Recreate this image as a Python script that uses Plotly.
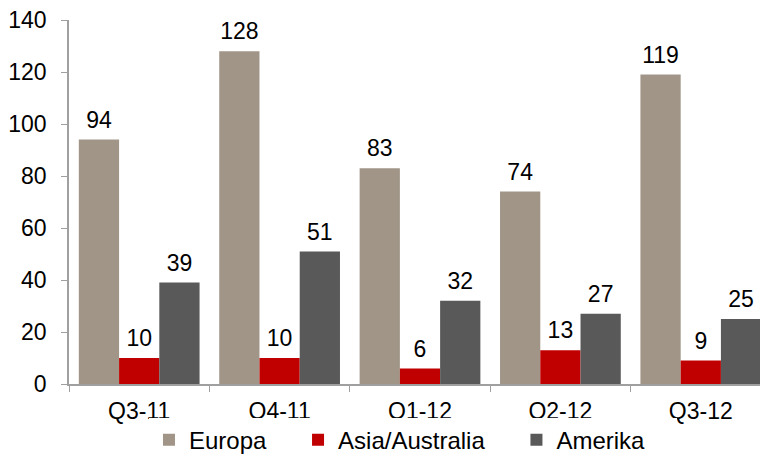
import plotly.graph_objects as go

categories = ["Q3-11", "Q4-11", "Q1-12", "Q2-12", "Q3-12"]
europa = [94, 128, 83, 74, 119]
asia = [10, 10, 6, 13, 9]
amerika = [39, 51, 32, 27, 25]
y_ticks = [0, 20, 40, 60, 80, 100, 120, 140]

font = "Arial, Liberation Sans, sans-serif"
series = [("Europa", europa, "#A09587"), ("Asia/Australia", asia, "#C00000"), ("Amerika", amerika, "#595959")]
pad = "\u00a0" * 4

fig = go.Figure()
for i, (name, vals, col) in enumerate(series):
    fig.add_trace(go.Bar(
        name=name + pad, x=categories, y=vals, marker_color=col, marker_line_width=0,
        offsetgroup=str(i), hoverinfo="x+y",
    ))
for i, (name, vals, col) in enumerate(series):
    fig.add_trace(go.Scatter(
        x=categories, y=vals, mode="markers+text", text=[str(v) for v in vals],
        textposition="top center", offsetgroup=str(i), showlegend=False,
        marker=dict(size=8, opacity=0), cliponaxis=False, hoverinfo="skip",
        textfont=dict(size=23, color="black", family=font),
    ))

fig.update_layout(
    width=768, height=454,
    margin=dict(l=61, r=5, t=12, b=78, autoexpand=False),
    paper_bgcolor="white", plot_bgcolor="white",
    barmode="group", bargap=0.14, bargroupgap=0,
    scattermode="group", scattergap=0.14,
    font=dict(family=font, size=23, color="black"),
    showlegend=True,
    legend=dict(orientation="h", x=0.49, xanchor="center", y=-0.154, yanchor="middle",
                font=dict(size=24, color="black"), itemwidth=30, traceorder="normal"),
    xaxis=dict(showline=True, linecolor="#A0A0A0", linewidth=1.5, ticks="outside",
               tickson="boundaries", ticklen=6, tickcolor="#A0A0A0", automargin=False,
               tickfont=dict(size=23), showgrid=False, ticklabelstandoff=6,
               ticklabeloverflow="allow"),
    yaxis=dict(range=[0, 140], tickvals=y_ticks, showline=True, linecolor="#A0A0A0",
               linewidth=1.5, ticks="outside", ticklen=6, tickcolor="#A0A0A0", automargin=False,
               tickfont=dict(size=23), showgrid=False, zeroline=False, ticklabelstandoff=10,
               ticklabeloverflow="allow"),
)

fig.write_html("out.html")
